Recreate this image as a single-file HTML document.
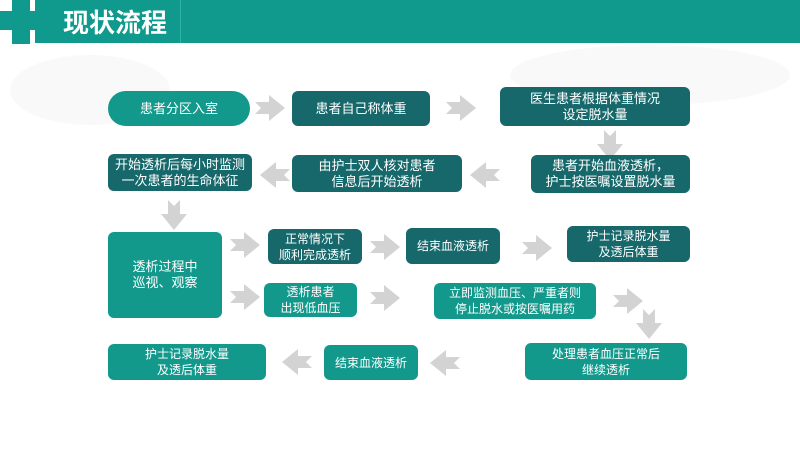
<!DOCTYPE html>
<html><head><meta charset="utf-8"><style>
body{margin:0;width:800px;height:450px;overflow:hidden;background:#fff;font-family:"Liberation Sans","Noto Sans CJK SC",sans-serif}
.b{position:absolute;color:#fff;font-size:13px;line-height:16px;display:flex;align-items:center;justify-content:center;text-align:center;border-radius:6px}
.d{background:#16686b}
.l{background:#12998c}
</style></head><body>
<svg width="800" height="450" style="position:absolute;left:0;top:0">
<rect x="35" y="0" width="765" height="43" fill="#0f9a8d"/>
<rect x="12" y="0" width="18" height="44" fill="#0f9a8d"/>
<rect x="0" y="11" width="30" height="19" fill="#0f9a8d"/>
<rect x="30" y="11" width="5" height="19" fill="#0f9a8d"/>
<rect x="180" y="0" width="1" height="43" fill="#2fb1a5"/>
<text x="63" y="32" font-size="26" font-weight="bold" fill="#fff" font-family="Liberation Sans, Noto Sans CJK SC, sans-serif">现状流程</text>
<g fill="#f9f9f9">
<ellipse cx="90" cy="90" rx="80" ry="35"/>
<ellipse cx="650" cy="75" rx="140" ry="30"/>
</g>
<defs>
<polygon id="ar" points="0,7 14,7 14,0 30,13 14,26 14,19 0,19 6,13" fill="#d3d3d3"/>
</defs>
<use href="#ar" x="255" y="95"/>
<use href="#ar" x="446" y="95"/>
<use href="#ar" transform="translate(623,130) rotate(90)"/>
<use href="#ar" transform="translate(500,188) rotate(180)"/>
<use href="#ar" transform="translate(290,188) rotate(180)"/>
<use href="#ar" transform="translate(187,200) rotate(90)"/>
<use href="#ar" x="230" y="232"/>
<use href="#ar" x="230" y="284"/>
<use href="#ar" x="370" y="234"/>
<use href="#ar" x="522" y="235"/>
<use href="#ar" x="370" y="285"/>
<use href="#ar" x="613" y="288"/>
<use href="#ar" transform="translate(662,309) rotate(90)"/>
<use href="#ar" transform="translate(460,376) rotate(180)"/>
<use href="#ar" transform="translate(312,375) rotate(180)"/>
</svg>
<div class="b l" style="left:108px;top:91px;width:142px;height:35px;border-radius:18px">患者分区入室</div>
<div class="b d" style="left:292px;top:91px;width:138px;height:35px">患者自己称体重</div>
<div class="b d" style="left:500px;top:87px;width:190px;height:39px">医生患者根据体重情况<br>设定脱水量</div>
<div class="b d" style="left:531px;top:155px;width:159px;height:38px">患者开始血液透析，<br>护士按医嘱设置脱水量</div>
<div class="b d" style="left:292px;top:155px;width:170px;height:37px">由护士双人核对患者<br>信息后开始透析</div>
<div class="b d" style="left:108px;top:154px;width:144px;height:37px">开始透析后每小时监测<br>一次患者的生命体征</div>
<div class="b l" style="left:108px;top:232px;width:114px;height:86px">透析过程中<br>巡视、观察</div>
<div class="b d" style="left:268px;top:229px;width:94px;height:35px;font-size:12px">正常情况下<br>顺利完成透析</div>
<div class="b d" style="left:406px;top:228px;width:94px;height:36px;font-size:12px">结束血液透析</div>
<div class="b d" style="left:567px;top:226px;width:123px;height:36px;font-size:12px">护士记录脱水量<br>及透后体重</div>
<div class="b l" style="left:264px;top:283px;width:93px;height:34px;font-size:12px">透析患者<br>出现低血压</div>
<div class="b l" style="left:434px;top:283px;width:162px;height:36px;font-size:12px">立即监测血压、严重者则<br>停止脱水或按医嘱用药</div>
<div class="b l" style="left:525px;top:343px;width:162px;height:37px;font-size:12px">处理患者血压正常后<br>继续透析</div>
<div class="b l" style="left:324px;top:345px;width:94px;height:35px;font-size:12px">结束血液透析</div>
<div class="b l" style="left:108px;top:344px;width:158px;height:36px;font-size:12px">护士记录脱水量<br>及透后体重</div>
</body></html>
